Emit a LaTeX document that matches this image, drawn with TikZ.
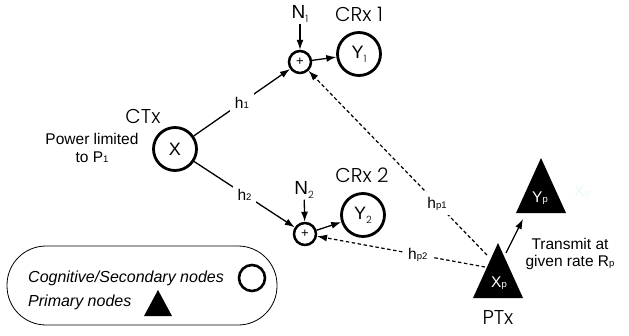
\documentclass[tikz,border=0pt]{standalone}
\usepackage{fontspec}
\setmainfont{Liberation Sans}
\newfontfamily\geo{Poppins Light}
\usetikzlibrary{arrows.meta}
\newcommand\bsub[1]{{\fontsize{9.5}{9.5}\selectfont #1}}
\newcommand\lowsub[1]{\raisebox{-4pt}{\geo\fontsize{10}{10}\selectfont #1}}
\definecolor{faint}{RGB}{232,250,250}
\begin{document}
\begin{tikzpicture}[x=1pt,y=-1pt,
  big/.style={circle,draw,line width=2.8pt,minimum size=43pt,inner sep=0pt,font=\fontsize{18}{18}\selectfont},
  sum/.style={circle,draw,line width=2.5pt,minimum size=22pt,inner sep=0pt,font=\fontsize{13}{13}\selectfont},
  txt/.style={inner sep=0pt,font=\fontsize{15.5}{15.5}\selectfont},
  geolab/.style={inner sep=0pt,font=\geo\fontsize{20}{20}\selectfont},
  arr/.style={line width=1.3pt,-{Latex[length=10pt,width=7pt]}},
  darr/.style={line width=1.2pt,dash pattern=on 3.5pt off 2.5pt,-{Latex[length=10pt,width=7pt]}},
  glab/.style={fill=white,inner sep=5pt,font=\fontsize{15.5}{15.5}\selectfont}]
\useasboundingbox (0,0) rectangle (629,335);

% cognitive nodes
\node[big] (X) at (175,149) {X};
\node[sum] (S1) at (300,62) {+};
\node[big] (Y1) at (359,54) {Y\lowsub{1}};
\node[sum] (S2) at (305,234) {+};
\node[big] (Y2) at (363,215) {Y\lowsub{2}};
\node[inner sep=1pt,font=\fontsize{19}{19}\selectfont] (N1) at (300,14) {N\lowsub{1}};
\node[inner sep=1pt,font=\fontsize{19}{19}\selectfont] (N2) at (304,190) {N\lowsub{2}};

\node[geolab] (CTx) at (143,116) {CTx};
\node[geolab] (CRx1) at (359,14) {CRx 1};
\node[geolab] (CRx2) at (362,175) {CRx 2};
\node[geolab] (PTx) at (498,318) {PTx};

\node[txt,align=center] (pw) at (92,148) {Power limited\\[2pt]to P\bsub{1}};

% primary nodes
\fill (498,243) -- (523,298) -- (473,298) -- cycle;
\fill (541,158) -- (566,213) -- (516,213) -- cycle;
\node[txt,text=white] (Xp) at (499,283) {X\bsub{p}};
\node[txt,text=white] (Yp) at (540,198) {Y\bsub{p}};
\node[txt,text=faint] (Xf) at (582,192) {X\bsub{p}};
\node[txt,align=center] (tr) at (570,254) {Transmit at\\[2pt]given rate R\bsub{p}};
\coordinate (xp1) at (487,255);
\coordinate (xp2) at (485,267);
\coordinate (xpa) at (506,253);
\coordinate (ypb) at (523,219);

% connectors
\draw[arr] (N1) -- (S1);
\draw[arr] (N2) -- (S2);
\draw[arr] (S1) -- (Y1);
\draw[arr] (S2) -- (Y2);
\draw[arr] (X) -- node[glab] {h\bsub{1}} (S1);
\draw[arr] (X) -- node[glab] {h\bsub{2}} (S2);
\draw[darr] (xp1) -- node[glab,pos=0.28] {h\bsub{p1}} (S1);
\draw[darr] (xp2) -- node[glab,pos=0.4] {h\bsub{p2}} (S2);
\draw[arr] (xpa) -- (ypb);

% legend
\draw[line width=0.8pt,rounded corners=39pt] (7,246) rectangle (277,325);
\node[txt,anchor=west,font=\itshape\fontsize{16}{16}\selectfont] (lg1) at (28,278) {Cognitive/Secondary nodes};
\node[txt,anchor=west,font=\itshape\fontsize{16}{16}\selectfont] (lg2) at (28,302) {Primary nodes};
\node[circle,draw,line width=2.6pt,minimum size=26pt,inner sep=0pt] (lc) at (252,278) {};
\fill (158,290) -- (172,316) -- (144,316) -- cycle;
\end{tikzpicture}
\end{document}
